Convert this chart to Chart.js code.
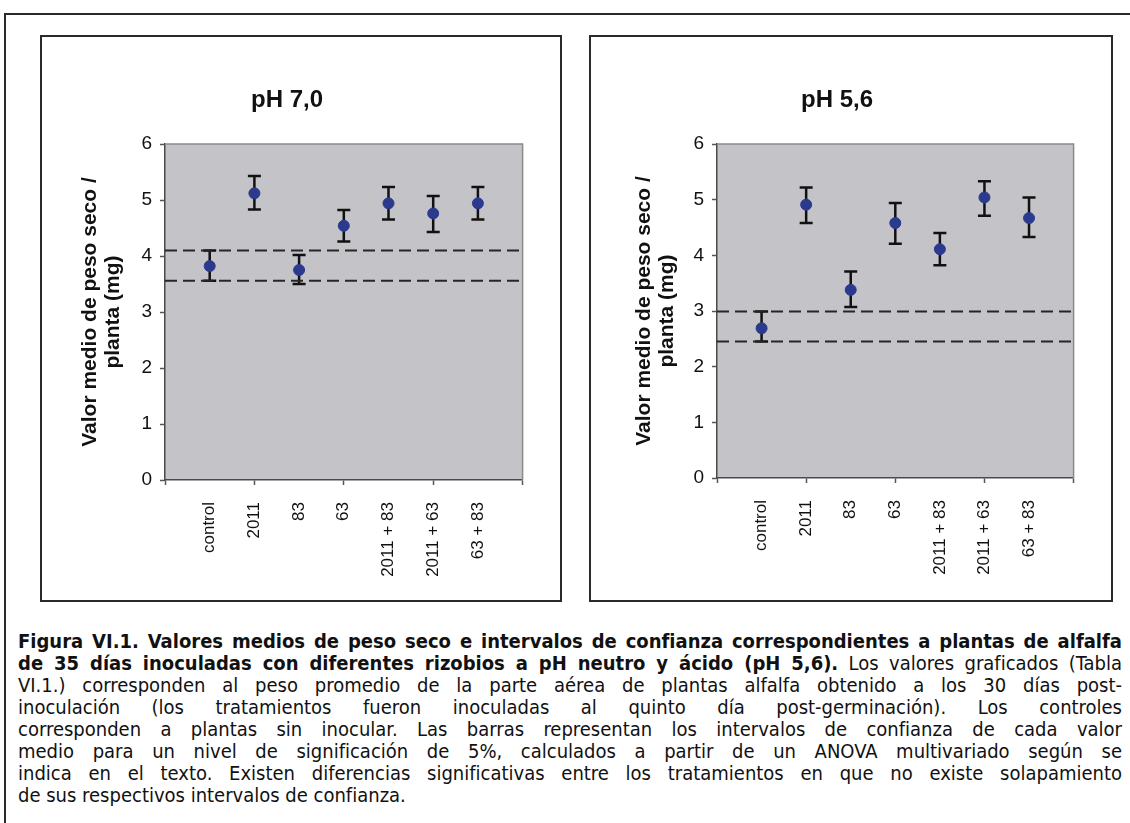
<!doctype html>
<html lang="es">
<head>
<meta charset="utf-8">
<title>Figura VI.1</title>
<script src="https://cdn.jsdelivr.net/npm/chart.js"></script>
<style>
  html, body { margin: 0; padding: 0; background: #fff; }
  body { width: 1130px; height: 823px; overflow: hidden; position: relative; }
  .frame { position: absolute; left: 4px; top: 13px; width: 1140px; height: 840px;
           border-left: 2px solid #2a2a2a; border-top: 2px solid #2a2a2a; }
  .panel { position: absolute; top: 35px; height: 563px; border: 2px solid #2a2a2a; }
  #p1 { left: 40px; width: 518px; }
  #p2 { left: 589px; width: 520px; }
  .panel canvas { position: absolute; left: 0; top: 0; }
  .caption { position: absolute; left: 18px; top: 630px; width: 1104px; color: #111;
             font-family: "DejaVu Sans Condensed", "DejaVu Sans", sans-serif; font-stretch: condensed;
             font-size: 20px; }
  .ln { height: 22px; line-height: 22px; text-align: justify; text-align-last: justify; }
  .ln.last { text-align-last: left; }
</style>
</head>
<body>
<div class="frame"></div>
<div class="panel" id="p1"><canvas id="chart70" width="518" height="563"></canvas></div>
<div class="panel" id="p2"><canvas id="chart56" width="520" height="563"></canvas></div>

<div class="caption">
  <div class="ln"><b>Figura VI.1. Valores medios de peso seco e intervalos de confianza correspondientes a plantas de alfalfa</b></div>
  <div class="ln"><b>de 35 días inoculadas con diferentes rizobios a pH neutro y ácido (pH 5,6).</b> Los valores graficados (Tabla</div>
  <div class="ln">VI.1.) corresponden al peso promedio de la parte aérea de plantas alfalfa obtenido a los 30 días post-</div>
  <div class="ln">inoculación (los tratamientos fueron inoculadas al quinto día post-germinación). Los controles</div>
  <div class="ln">corresponden a plantas sin inocular. Las barras representan los intervalos de confianza de cada valor</div>
  <div class="ln">medio para un nivel de significación de 5%, calculados a partir de un ANOVA multivariado según se</div>
  <div class="ln">indica en el texto. Existen diferencias significativas entre los tratamientos en que no existe solapamiento</div>
  <div class="ln last">de sus respectivos intervalos de confianza.</div>
</div>

<script>
// tratamientos (eje x)
const categories = ['control', '2011', '83', '63', '2011 + 83', '2011 + 63', '63 + 83'];
const yTicks = [0, 1, 2, 3, 4, 5, 6];
const yTitle = ['Valor medio de peso seco /', 'planta (mg)'];

// pH 7,0
const ph70Mean = [3.82, 5.12, 3.75, 4.54, 4.94, 4.76, 4.94];
const ph70Low  = [3.56, 4.83, 3.50, 4.26, 4.65, 4.43, 4.65];
const ph70High = [4.10, 5.43, 4.02, 4.82, 5.23, 5.07, 5.23];
const ph70Refs = [4.10, 3.56];

// pH 5,6
const ph56Mean = [2.69, 4.91, 3.38, 4.58, 4.11, 5.04, 4.67];
const ph56Low  = [2.45, 4.58, 3.07, 4.21, 3.82, 4.71, 4.33];
const ph56High = [2.99, 5.22, 3.71, 4.94, 4.40, 5.33, 5.04];
const ph56Refs = [2.99, 2.45];

const FONT = '"Liberation Sans", Arial, sans-serif';

function create_chart(id, title, mean, low, high, refs, lay) {
    const ctx = document.getElementById(id);

    // fondo gris, barras de error y borde del área de trazado
    const decor = {
        id: 'decor',
        beforeDraw(chart) {
            const a = chart.chartArea, c = chart.ctx;
            c.save();
            c.fillStyle = '#c4c4c8';
            c.fillRect(a.left, a.top, a.right - a.left, a.bottom - a.top);
            c.restore();
        },
        beforeDatasetsDraw(chart) {
            const c = chart.ctx, xs = chart.scales.x, ys = chart.scales.y;
            c.save();
            c.strokeStyle = '#111';
            c.lineWidth = 2.5;
            for (let i = 0; i < mean.length; i++) {
                const x = xs.getPixelForValue(i + 1);
                const y1 = ys.getPixelForValue(low[i]);
                const y2 = ys.getPixelForValue(high[i]);
                c.beginPath();
                c.moveTo(x, y1); c.lineTo(x, y2);
                c.moveTo(x - 6.5, y1); c.lineTo(x + 6.5, y1);
                c.moveTo(x - 6.5, y2); c.lineTo(x + 6.5, y2);
                c.stroke();
            }
            c.restore();
        },
        afterDraw(chart) {
            const a = chart.chartArea, c = chart.ctx;
            c.save();
            c.strokeStyle = '#8a8a8a';
            c.lineWidth = 1.5;
            c.beginPath();
            c.moveTo(a.left, a.top); c.lineTo(a.right, a.top); c.lineTo(a.right, a.bottom);
            c.stroke();
            c.restore();
        }
    };

    const refSets = refs.map(v => ({
        type: 'line',
        data: [{x: 0, y: v}, {x: 8, y: v}],
        borderColor: '#262626',
        borderWidth: 2,
        borderDash: [12, 6],
        pointRadius: 0,
        order: 2
    }));

    return new Chart(ctx, {
        type: 'scatter',
        data: {
            datasets: [{
                data: mean.map((v, i) => ({x: i + 1, y: v})),
                backgroundColor: '#2c3a8e',
                borderColor: '#2c3a8e',
                pointRadius: 5.5,
                order: 1
            }].concat(refSets)
        },
        options: {
            responsive: false,
            animation: false,
            layout: { padding: { top: 0, left: 0, right: lay.padRight, bottom: 0 } },
            plugins: {
                legend: { display: false },
                tooltip: { enabled: false },
                title: {
                    display: true,
                    text: title,
                    color: '#111',
                    font: { family: FONT, size: 24, weight: 'bold', lineHeight: 1.2 },
                    padding: { top: 48.6, bottom: 29.6 }
                }
            },
            scales: {
                x: {
                    type: 'linear',
                    min: 0, max: 8,
                    afterFit(s) { s.height = lay.xHeight; },
                    ticks: {
                        stepSize: 1,
                        autoSkip: false,
                        minRotation: 90, maxRotation: 90,
                        padding: 17,
                        color: '#111',
                        font: { family: FONT, size: 17 },
                        callback: v => (v >= 1 && v <= categories.length) ? categories[v - 1] : ''
                    },
                    grid: {
                        drawOnChartArea: false,
                        tickLength: 5,
                        tickWidth: 1.5,
                        tickColor: c => (c.tick && c.tick.value % 2 === 0) ? '#555' : 'rgba(0,0,0,0)'
                    },
                    border: { color: '#4a4a4a', width: 1.5 }
                },
                y: {
                    min: yTicks[0], max: yTicks[yTicks.length - 1],
                    afterFit(s) { s.width = lay.yWidth; },
                    afterBuildTicks(s) { s.ticks = yTicks.map(v => ({value: v})); },
                    ticks: {
                        padding: 8,
                        color: '#111',
                        font: { family: FONT, size: 19 }
                    },
                    grid: { drawOnChartArea: false, tickLength: 5, tickWidth: 1.5, tickColor: '#555' },
                    border: { color: '#4a4a4a', width: 1.5 },
                    title: {
                        display: true,
                        text: yTitle,
                        color: '#111',
                        font: { family: FONT, size: 21, weight: 'bold', lineHeight: 1.12 },
                        padding: { top: lay.yTitlePad, bottom: 0 }
                    }
                }
            }
        },
        plugins: [decor]
    });
}

create_chart('chart70', 'pH 7,0', ph70Mean, ph70Low, ph70High, ph70Refs,
    { yWidth: 123, padRight: 28, xHeight: 120, yTitlePad: 36 });
create_chart('chart56', 'pH 5,6', ph56Mean, ph56Low, ph56High, ph56Refs,
    { yWidth: 126, padRight: 28, xHeight: 122, yTitlePad: 41 });
</script>
</body>
</html>
